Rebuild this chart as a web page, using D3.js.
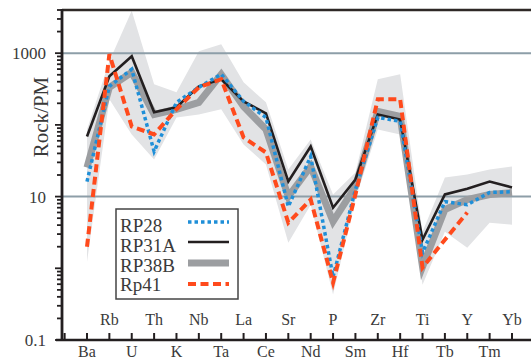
<!DOCTYPE html>
<html>
<head>
<meta charset="utf-8">
<script src="https://cdn.jsdelivr.net/npm/d3@7/dist/d3.min.js"></script>
<style>
  body { margin: 0; background: #fff; }
  text { font-family: "Liberation Serif", "Times New Roman", serif; fill: #3a3a3a; }
</style>
</head>
<body>
<div id="chart"></div>
<script>
const elements = ["Ba","Rb","U","Th","K","Nb","Ta","La","Ce","Sr","Nd","P","Sm","Zr","Hf","Ti","Tb","Y","Tm","Yb"];

const rp28  = [16.2, 345, 597, 42.6, 206, 334, 508, 213, 127, 7.25, 36.3, 0.76, 12.5, 127, 112, 1.65, 8.5, 7.7, 11.4, 11.7];
const rp31a = [69, 477, 908, 150, 176, 345, 433, 213, 145, 16.2, 50, 7.0, 17.3, 140, 119, 2.5, 10.7, 12.9, 16.2, 13.4];
const rp38b = [25.5, 334, 542, 140, 165, 206, 508, 181, 86.5, 10, 26.3, 4.5, 13.8, 154, 131, 1.05, 6.6, 9.1, 10.7, 11.4];
const rp41  = [2.0, 968, 95, 73.6, 165, 334, 433, 66.8, 41.2, 4.33, 9.1, 0.63, 10.7, 227, 227, 1.02, 2.5, 6.0, null, null];

// range of the comparison field (light grey band)
const bandHigh = [86.5, 773, 3900, 368, 285, 1067, 1336, 393, 206, 23.9, 62.7, 10.7, 21.7, 433, 508, 3.24, 18.4, 20.3, 23.9, 26.3];
const bandLow  = [1.23, 227, 73.6, 32.9, 127, 140, 165, 53.4, 28, 2.27, 7.7, 0.43, 9.1, 86.5, 73.6, 0.59, 3.24, 1.94, 4.33, 4.06];

const yLabels = [0.1, 10, 1000];
const gridValues = [10, 1000];

const series = [
  { name: "RP38B", values: rp38b, color: "#9c9ea1", width: 7, dash: null },
  { name: "RP31A", values: rp31a, color: "#231f20", width: 2.6, dash: null },
  { name: "RP28",  values: rp28,  color: "#1f8fd8", width: 3.5, dash: "3.5,3" },
  { name: "Rp41",  values: rp41,  color: "#ff4a1c", width: 4, dash: "8,4.5" }
];
const legendOrder = ["RP28", "RP31A", "RP38B", "Rp41"];

const width = 531, height = 360;
const plotLeft = 62, plotTop = 10, plotBottom = 340;

const svg = d3.select("#chart").append("svg")
  .attr("width", width)
  .attr("height", height);

const x = d3.scalePoint().domain(elements).range([87, 512]);
const y = d3.scaleLog().domain([0.1, 4000]).range([plotBottom, plotTop]);

// grey band
const band = d3.area()
  .x((d, i) => x(elements[i]))
  .y0((d, i) => y(bandLow[i]))
  .y1(d => y(d));
svg.append("path")
  .attr("d", band(bandHigh))
  .attr("fill", "#e2e3e5");

// grid lines
svg.selectAll(".grid")
  .data(gridValues)
  .enter().append("line")
  .attr("x1", plotLeft).attr("x2", width)
  .attr("y1", d => y(d)).attr("y2", d => y(d))
  .attr("stroke", "#8d9ea8")
  .attr("stroke-width", 2);

// series
const line = d3.line()
  .defined(d => d != null)
  .x((d, i) => x(elements[i]))
  .y(d => y(d));

svg.selectAll(".series")
  .data(series)
  .enter().append("path")
  .attr("d", d => line(d.values))
  .attr("fill", "none")
  .attr("stroke", d => d.color)
  .attr("stroke-width", d => d.width)
  .attr("stroke-dasharray", d => d.dash)
  .attr("stroke-linejoin", "miter");

// frame: top border, left axis, bottom axis
svg.append("line")
  .attr("x1", plotLeft).attr("x2", width)
  .attr("y1", plotTop).attr("y2", plotTop)
  .attr("stroke", "#2e2926").attr("stroke-width", 2.5);

const yTicks = y.ticks().filter(d => d <= 4000);
svg.selectAll(".ytick")
  .data(yTicks)
  .enter().append("line")
  .attr("x1", d => Math.abs(Math.log10(d) % 1) < 1e-9 ? 55 : 57)
  .attr("x2", plotLeft)
  .attr("y1", d => y(d)).attr("y2", d => y(d))
  .attr("stroke", "#231f20")
  .attr("stroke-width", 1.8);

svg.append("line")
  .attr("x1", plotLeft).attr("x2", plotLeft)
  .attr("y1", plotTop - 1).attr("y2", plotBottom)
  .attr("stroke", "#231f20").attr("stroke-width", 2.8);

svg.append("line")
  .attr("x1", 56).attr("x2", width)
  .attr("y1", plotBottom).attr("y2", plotBottom)
  .attr("stroke", "#231f20").attr("stroke-width", 2.5);

const step = x.step();
const xTickPos = [x(elements[0]) - step].concat(elements.map(e => x(e)));
svg.selectAll(".xtick")
  .data(xTickPos)
  .enter().append("line")
  .attr("x1", d => d).attr("x2", d => d)
  .attr("y1", plotBottom).attr("y2", plotBottom - 7)
  .attr("stroke", "#231f20")
  .attr("stroke-width", 2);

svg.selectAll(".xlabel")
  .data(elements)
  .enter().append("text")
  .attr("x", d => x(d))
  .attr("y", (d, i) => i % 2 === 1 ? 325 : 357)
  .attr("text-anchor", "middle")
  .style("font-size", "16px")
  .text(d => d);

svg.selectAll(".ylabel")
  .data(yLabels)
  .enter().append("text")
  .attr("x", 46)
  .attr("y", d => y(d))
  .attr("dy", "0.35em")
  .attr("text-anchor", "end")
  .style("font-size", "17px")
  .text(d => d3.format("~g")(d));

svg.append("text")
  .attr("transform", "translate(48,117) rotate(-90)")
  .attr("text-anchor", "middle")
  .style("font-size", "21px")
  .text("Rock/PM");

// legend
const legend = svg.append("g");
legend.append("rect")
  .attr("x", 116).attr("y", 209)
  .attr("width", 122).attr("height", 90)
  .attr("fill", "#fff")
  .attr("stroke", "#444")
  .attr("stroke-width", 1.5);

const legendItems = legendOrder.map(n => series.find(s => s.name === n));
const rowY = [222, 242, 263, 284];
const rowText = [232, 252, 272, 291];

legend.selectAll(".lline")
  .data(legendItems)
  .enter().append("line")
  .attr("x1", 188).attr("x2", 229)
  .attr("y1", (d, i) => rowY[i]).attr("y2", (d, i) => rowY[i])
  .attr("stroke", d => d.color)
  .attr("stroke-width", d => d.width)
  .attr("stroke-dasharray", d => d.dash);

legend.selectAll(".ltext")
  .data(legendItems)
  .enter().append("text")
  .attr("x", 120)
  .attr("y", (d, i) => rowText[i])
  .style("font-size", "19px")
  .text(d => d.name);
</script>
</body>
</html>
